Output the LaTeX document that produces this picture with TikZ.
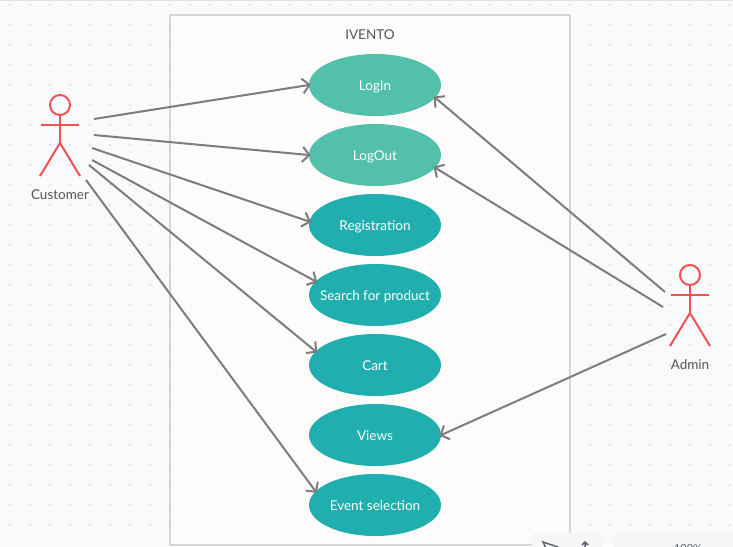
\documentclass[tikz,border=0pt]{standalone}
\usepackage{fontspec}
\setmainfont{Lato}
\usetikzlibrary{arrows.meta,shapes.geometric}
\definecolor{pagebg}{HTML}{F9FAFC}
\definecolor{griddot}{HTML}{E3E3E6}
\definecolor{framebg}{HTML}{FDFCFB}
\definecolor{frameline}{HTML}{D6D6D6}
\definecolor{actorred}{HTML}{F05252}
\definecolor{labelgrey}{HTML}{555555}
\definecolor{linkgrey}{HTML}{7F7D7C}
\definecolor{lightcase}{HTML}{52C0AA}
\definecolor{darkcase}{HTML}{20AFAE}
\definecolor{panelbg}{HTML}{F7F6F6}
\definecolor{iconblue}{HTML}{5A6675}
\tikzset{
	usecase/.style={ellipse, minimum width=132pt, minimum height=62pt, inner xsep=-30pt, inner ysep=0pt, text=white, text height=11pt, text depth=1pt},
	actorlabel/.style={text=labelgrey, inner sep=0pt, text height=11pt, text depth=1pt},
	actorline/.style={draw=actorred, line width=2pt},
	link/.style={draw=linkgrey, line width=2pt, shorten >=-2pt, -{Straight Barb[length=7pt, width=15pt]}}
}
\begin{document}
\begin{tikzpicture}[x=1pt, y=-1pt, font=\fontsize{13.5}{16}\selectfont]
	\useasboundingbox (0, 0) rectangle (733, 546);
	\fill[pagebg] (0, 0) rectangle (733, 546);
	\fill[griddot] (0, 0) rectangle (733, 1);
	% Dots
	\foreach \x in {10, 30, ..., 730}
		\foreach \y in {5, 25, ..., 525}
			\fill[griddot] (\x, \y) circle (1.3pt);
	
	% System
	\draw[draw=frameline, fill=framebg, line width=2pt] (170, 15) rectangle (570, 545);
	\node[actorlabel] (title) at (370, 34) {IVENTO};
	
	% Use cases
	\node[usecase, fill=lightcase] (login) at (375, 85) {LogIn};
	\node[usecase, fill=lightcase] (logout) at (375, 155) {LogOut};
	\node[usecase, fill=darkcase] (registration) at (375, 225) {Registration};
	\node[usecase, fill=darkcase] (search) at (375, 295) {Search for product};
	\node[usecase, fill=darkcase] (cart) at (375, 365) {Cart};
	\node[usecase, fill=darkcase] (views) at (375, 435) {Views};
	\node[usecase, fill=darkcase] (event) at (375, 505) {Event selection};
	
	% Actors
	\foreach \ax/\ay in {60/105, 690/275} {
		\draw[actorline] (\ax, \ay) circle (10pt);
		\draw[actorline] (\ax, \ay+10) -- (\ax, \ay+38);
		\draw[actorline] (\ax-19, \ay+20) -- (\ax+19, \ay+20);
		\draw[actorline] (\ax-20, \ay+71) -- (\ax, \ay+38) -- (\ax+20, \ay+71);
	}
	\node[actorlabel] (customer) at (60, 194) {Customer};
	\node[actorlabel] (admin) at (690, 364) {Admin};
	
	% Free ends of the links
	\coordinate (c1) at (94, 119);
	\coordinate (c2) at (94, 135);
	\coordinate (c3) at (92, 148);
	\coordinate (c4) at (92, 160);
	\coordinate (c5) at (89, 165);
	\coordinate (c6) at (86, 180);
	\coordinate (a1) at (665, 292);
	\coordinate (a2) at (663, 307);
	\coordinate (a3) at (666, 334);
	
	% Links
	\draw[link] (c1) -- (login.west);
	\draw[link] (c2) -- (logout.west);
	\draw[link] (c3) -- (registration.177);
	\draw[link] (c4) -- (search.167);
	\draw[link] (c5) -- (cart.167);
	\draw[link] (c6) -- (event.167);
	\draw[link] (a1) -- (login.-12);
	\draw[link] (a2) -- (logout.-12);
	\draw[link] (a3) -- (views.east);
	
	% Toolbar at the bottom edge
	\fill[panelbg, rounded corners=4pt] (532, 533) rectangle (603, 560);
	\fill[panelbg, rounded corners=4pt] (613, 533) rectangle (745, 560);
	\draw[iconblue, line width=1.5pt] (558, 547) -- (543, 542) -- (548, 552);
	\draw[iconblue, line width=1.5pt] (585, 552) -- (585, 542) (582, 545) -- (585, 542) -- (588, 545);
	\node[text=iconblue, inner sep=0pt, font=\fontsize{11}{13}\selectfont] (zoomlabel) at (688, 549) {100\%};
\end{tikzpicture}
\end{document}
